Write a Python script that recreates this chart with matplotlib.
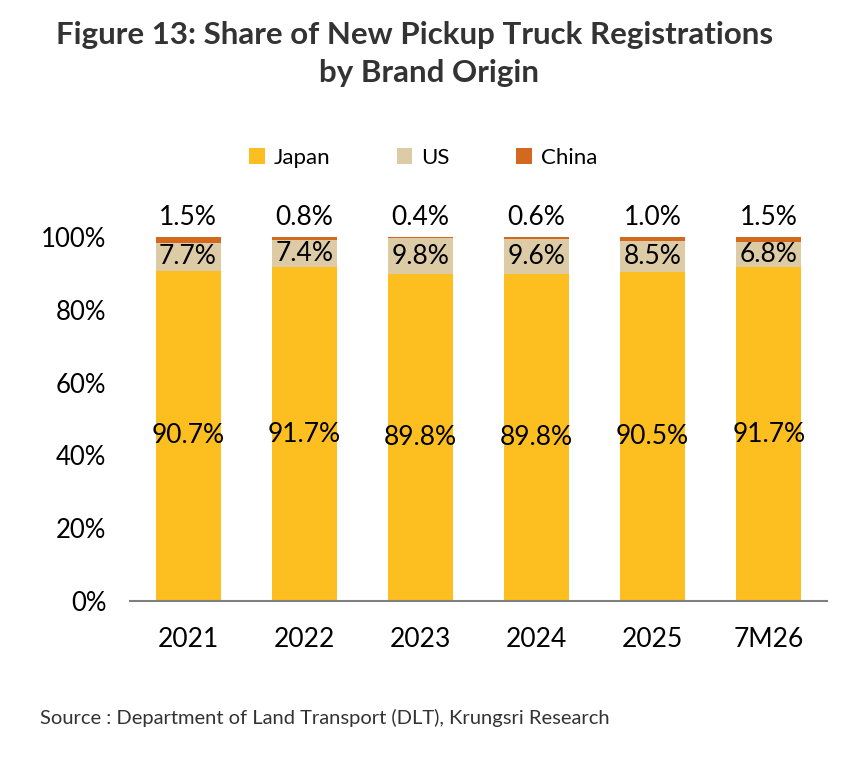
import matplotlib
matplotlib.use("Agg")
import matplotlib.pyplot as plt
import numpy as np

categories = ["2021", "2022", "2023", "2024", "2025", "7M26"]
japan = [90.7, 91.7, 89.8, 89.8, 90.5, 91.7]
us = [7.7, 7.4, 9.8, 9.6, 8.5, 6.8]
china = [1.5, 0.8, 0.4, 0.6, 1.0, 1.5]
yticks = [0, 20, 40, 60, 80, 100]

c_japan = "#FDBF1F"
c_us = "#DDCBA6"
c_china = "#D2691E"
FONT = "Lato"

fig = plt.figure(figsize=(8.55, 7.7), dpi=100)
ax = fig.add_axes([0.152, 0.2195, 0.815, 0.4727])

x = np.arange(len(categories))
w = 0.56
j = np.array(japan)
u = np.array(us)
c = np.array(china)
ax.bar(x, j, w, color=c_japan, label="Japan")
ax.bar(x, u, w, bottom=j, color=c_us, label="US")
ax.bar(x, c, w, bottom=j + u, color=c_china, label="China")

for i in range(len(categories)):
    ax.text(x[i], j[i] / 2, f"{japan[i]:.1f}%", ha="center", va="center",
            fontsize=19, family=FONT, color="black")
    ax.text(x[i], j[i] + u[i] / 2, f"{us[i]:.1f}%", ha="center", va="center",
            fontsize=19, family=FONT, color="black")
    ax.text(x[i], j[i] + u[i] + c[i] + 2.0, f"{china[i]:.1f}%", ha="center",
            va="bottom", fontsize=19, family=FONT, color="black", clip_on=False)

ax.set_xlim(-0.5, len(categories) - 0.5)
ax.set_ylim(0, 100)
ax.set_yticks(yticks)
ax.set_yticklabels([f"{v}%" for v in yticks], fontsize=18.5, family=FONT)
ax.set_xticks(x)
ax.set_xticklabels(categories, fontsize=19, family=FONT)
ax.tick_params(axis="both", length=0)
ax.tick_params(axis="x", pad=19)
ax.tick_params(axis="y", pad=17)
for s in ["top", "right", "left"]:
    ax.spines[s].set_visible(False)
ax.spines["bottom"].set_color("#7f7f7f")
ax.spines["bottom"].set_linewidth(1.5)

leg = fig.legend(loc="center", bbox_to_anchor=(0.495, 0.795), ncol=3, frameon=False,
                 prop={"family": FONT, "size": 16}, handlelength=0.7, handleheight=0.7,
                 columnspacing=3.0, handletextpad=0.4)

fig.text(0.485, 0.955, "Figure 13: Share of New Pickup Truck Registrations", ha="center",
         va="center", fontsize=22.5, fontweight="bold", family=FONT, color="#333333")
fig.text(0.502, 0.905, "by Brand Origin", ha="center", va="center", fontsize=22.5,
         fontweight="bold", family=FONT, color="#333333")
fig.text(0.047, 0.067, "Source : Department of Land Transport (DLT), Krungsri Research",
         ha="left", va="center", fontsize=14.5, family=FONT, color="#333333")

fig.savefig("out.png", dpi=100)
